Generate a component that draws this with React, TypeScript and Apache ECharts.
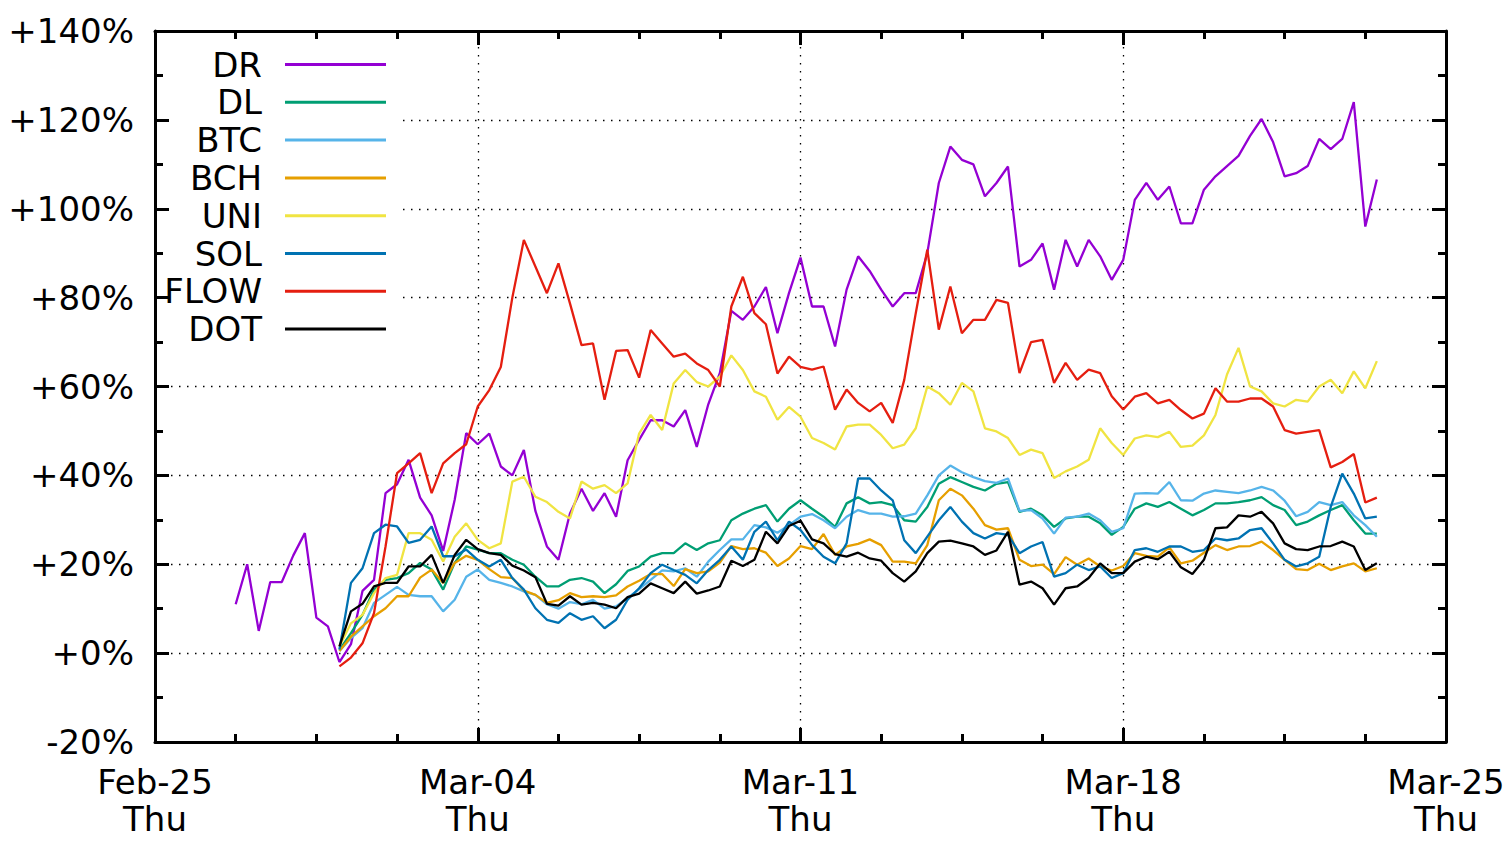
import React, { useEffect, useRef } from "react";
import * as echarts from "echarts";

// ---- data (percent change, sampled every 6 hours; x = days since Feb-25 2021) ----
const SERIES_NAMES = ["DR", "DL", "BTC", "BCH", "UNI", "SOL", "FLOW", "DOT"];
const SERIES_COLORS = ["#9400d3", "#009e73", "#56b4e9", "#e69f00", "#f0e442", "#0072b2", "#e51e10", "#000000"];
const STEP_DAYS = 0.25;
const DR_START = 1.75;
const OTHERS_START = 4.0;
const BASE_DATE_UTC = Date.UTC(2021, 1, 25);
const X_MIN_DAYS = 0;
const X_MAX_DAYS = 28;
const X_TICK_DAYS = 7;
const Y_MIN = -20;
const Y_MAX = 140;
const Y_TICK = 20;

const DR = [
  11,
  20, 5, 16, 16,
  22, 27, 8, 6,
  -2, 2, 14, 16.5,
  36, 38, 43.5, 35,
  31, 23, 34.5, 49.5,
  47, 49.4, 42, 40,
  45.7, 32, 24, 21,
  31.4, 37, 32, 36,
  30.7, 43.4, 48, 52.4,
  52.4, 51, 54.7, 46.4,
  56, 63, 77, 75,
  78, 82.4, 72, 81,
  89, 78, 78, 69,
  81.8, 89.3, 86, 81.8,
  78, 81, 81, 90,
  105.8, 114, 111, 110,
  102.8, 105.8, 109.5, 87,
  88.5, 92.2, 81.8, 93,
  87, 93, 89.3, 84,
  88.5, 102, 105.8, 102,
  105, 96.7, 96.7, 104.3,
  107.3, 109.6, 111.9, 116.4,
  120.2, 115, 107.3, 108,
  109.6, 115.7, 113.4, 115.7,
  124, 96, 106.6,
];

const DL = [
  0.7, 4.5, 8.6, 14.3,
  16.5, 16.9, 18, 20.3,
  18.8, 14.3, 20.3, 24,
  23.3, 22.5, 22.5, 21,
  19.9, 17.2, 15, 15,
  16.5, 16.9, 16.1, 13.5,
  15.5, 18.5, 19.5, 21.7,
  22.5, 22.5, 24.7, 23.2,
  24.7, 25.4, 29.9, 31.4,
  32.5, 33.3, 29.6, 32.5,
  34.4, 32.5, 30.7, 28.4,
  33.7, 35.1, 33.7, 34,
  33.3, 29.9, 29.6, 32.9,
  38.1, 39.6, 38.5, 37.4,
  36.6, 38.1, 38.5, 31.8,
  32.5, 31, 28.4, 30.3,
  30.7, 30.7, 29.2, 26.6,
  28.4, 32.5, 33.7, 32.9,
  34, 32.5, 31, 32.2,
  33.7, 33.7, 34, 34.4,
  35.1, 33.3, 32.2, 28.8,
  29.6, 31, 32.2, 33.3,
  29.9, 26.9, 26.9,
];

const BTC = [
  0.5, 3.4, 5.6, 11.3,
  13.1, 14.9, 13.1, 12.8,
  12.8, 9.4, 12, 17.2,
  18.8, 16.5, 15.8, 15,
  13.9, 13.1, 11, 10,
  11.5, 11, 12, 10,
  10.5, 12.4, 14.4, 16.5,
  18.6, 18.4, 19.1, 17.2,
  20.6, 23.2, 25.6, 25.6,
  28.8, 28.3, 27.1, 28.8,
  30.7, 31.3, 29.9, 28.1,
  30.7, 32.2, 31.4, 31.4,
  30.7, 30.8, 31.4, 35.5,
  40, 42.2, 40.7, 39.6,
  38.7, 38.3, 39.3, 32,
  32.2, 30.3, 26.9, 30.5,
  30.7, 31.4, 29.9, 27.3,
  28.1, 35.9, 36, 35.9,
  38.5, 34.4, 34.3, 35.9,
  36.6, 36.3, 36, 36.6,
  37.4, 36.6, 34.3, 30.8,
  31.8, 34, 33.3, 34,
  31, 28.8, 26.2,
];

const BCH = [
  0.5, 3.7, 6, 8.3,
  10.1, 12.8, 12.8, 17,
  18.8, 15.8, 20.3, 21.9,
  21, 18.9, 17.1, 16.9,
  14.1, 13.1, 11.3, 11.9,
  13.5, 12.6, 12.8, 12.6,
  13, 15, 16.3, 17.8,
  17.8, 15.1, 18.9, 18,
  18.4, 20.4, 24.1, 23.4,
  23.6, 22.6, 19.6, 21.3,
  24.1, 23.4, 26.8, 22.1,
  24, 24.6, 25.6, 24.3,
  20.6, 20.6, 20.2, 24.3,
  34.4, 37, 35.5, 32.5,
  28.8, 27.8, 28.1, 21,
  19.6, 19.9, 17.8, 21.6,
  19.9, 21.3, 19.5, 18.6,
  19.6, 22.5, 21.9, 21.7,
  23.8, 20.2, 20.8, 22.6,
  24.3, 23.2, 24, 24.1,
  25.1, 23.2, 21, 18.9,
  18.7, 20.1, 18.7, 19.5,
  20.2, 18.4, 19.1,
];

const UNI = [
  1.5, 6.7, 8.6, 13.5,
  16.9, 17.6, 27, 27,
  25.5, 20.6, 26.2, 29.2,
  25.5, 23.6, 24.7, 38.6,
  39.7, 35.2, 34, 31.8,
  30.3, 38.6, 37, 37.8,
  36, 38.2, 49.4, 53.6,
  50.2, 60.7, 63.7, 61,
  60, 62.2, 67, 63.7,
  58.9, 57.7, 52.5, 55.4,
  53.2, 48.4, 47.3, 45.8,
  51, 51.4, 51.4, 49.1,
  46.1, 46.9, 50.6, 60,
  58.5, 55.9, 60.8, 58.9,
  50.6, 49.9, 48.4, 44.6,
  45.8, 45, 39.4, 40.9,
  42, 43.5, 50.6, 47.3,
  44.6, 48.3, 49, 48.6,
  49.8, 46.4, 46.7, 49,
  53.6, 62.7, 68.7, 60,
  58.9, 56.2, 55.5, 57,
  56.6, 60, 61.5, 58.5,
  63.4, 59.6, 65.7,
];

const SOL = [
  0.8, 15.8, 19.1, 27,
  28.9, 28.5, 24.8, 25.5,
  28.5, 21.8, 21.8, 23.3,
  21, 19.5, 21, 16.9,
  14.3, 10.1, 7.5, 6.8,
  9, 7.5, 8.3, 5.6,
  7.5, 12, 14.6, 18,
  19.9, 18.7, 17.6, 15.7,
  18.7, 21, 24, 21,
  27.3, 29.6, 25.4, 29.6,
  27.7, 24.3, 21.7, 20.2,
  24.7, 39.3, 39.3, 36.6,
  34.4, 25.4, 22.5, 26.2,
  29.9, 32.9, 29.6, 27,
  25.8, 27, 26.6, 22.5,
  24, 25, 17.2, 18,
  19.9, 18.7, 19.5, 16.9,
  18, 23.2, 23.6, 22.8,
  24, 24, 22.8, 23.2,
  25.8, 25.4, 25.8, 27.7,
  28.1, 24.7, 21, 19.5,
  20.2, 21.7, 32.9, 40.4,
  35.9, 30.3, 30.7,
];

const FLOW = [
  -3, -1, 2.2, 9,
  24, 40.5, 42.7, 45,
  36, 42.7, 45, 47,
  55.5, 59.2, 64.4, 80,
  93, 87, 81, 87.7,
  78.7, 69.3, 69.7, 57,
  68, 68.2, 62, 72.7,
  69.7, 66.7, 67.4, 65.2,
  63.7, 60, 78, 84.7,
  76.5, 74, 62.9, 66.7,
  64.4, 63.8, 64.5, 54.8,
  59.3, 56.3, 54.4, 56.3,
  51.8, 61.5, 76.5, 90.8,
  72.8, 82.5, 72, 75,
  75, 79.5, 78.8, 63,
  70, 70.5, 60.8, 65.3,
  61.5, 63.8, 63, 57.8,
  54.8, 57.7, 58.5, 56.2,
  57, 54.7, 52.8, 53.9,
  59.6, 56.6, 56.6, 57.3,
  57.3, 55.5, 50.2, 49.4,
  49.8, 50.2, 41.8, 43,
  44.8, 33.9, 35,
];

const DOT = [
  1.5, 9.4, 11.1, 15,
  15.8, 15.8, 19.5, 19.5,
  22.1, 15.8, 22.1, 25.5,
  23.4, 22.5, 22.1, 19.7,
  18.6, 17.1, 11.1, 10.7,
  12.8, 10.9, 11.3, 10.9,
  10.1, 12.6, 13.4, 15.7,
  14.6, 13.5, 16.1, 13.4,
  14.1, 15, 20.8, 19.6,
  21, 27.3, 24.7, 28.6,
  29.8, 25.6, 24.7, 22.3,
  21.7, 22.6, 21.3, 20.8,
  18, 16.1, 18.4, 22.5,
  25.1, 25.3, 24.7, 24,
  22.1, 23.1, 27.3, 15.4,
  16.1, 14.6, 10.9, 14.6,
  15, 16.9, 20.2, 18,
  18, 20.6, 21.7, 21.1,
  22.8, 19.3, 17.8, 21,
  28.1, 28.3, 31, 30.7,
  31.8, 29.2, 24.7, 23.4,
  23.2, 24, 24.1, 25.1,
  24, 18.7, 20.2,
];

const SERIES_VALUES = [DR, DL, BTC, BCH, UNI, SOL, FLOW, DOT];
const SERIES_STARTS = [DR_START, OTHERS_START, OTHERS_START, OTHERS_START, OTHERS_START, OTHERS_START, OTHERS_START, OTHERS_START];

const MONTHS = ["Jan", "Feb", "Mar", "Apr", "May", "Jun", "Jul", "Aug", "Sep", "Oct", "Nov", "Dec"];
const WEEKDAYS = ["Sun", "Mon", "Tue", "Wed", "Thu", "Fri", "Sat"];

const FONT = "DejaVu Sans";
const FONT_SIZE = 34;

function xLabel(v: number): string {
  const d = new Date(BASE_DATE_UTC + v * 86400000);
  const dd = String(d.getUTCDate()).padStart(2, "0");
  return `${MONTHS[d.getUTCMonth()]}-${dd}\n${WEEKDAYS[d.getUTCDay()]}`;
}

function yLabel(v: number): string {
  return (v >= 0 ? "+" : "") + v + "%";
}

export default function App() {
  const ref = useRef<HTMLDivElement | null>(null);

  useEffect(() => {
    if (!ref.current) return;
    const chart = echarts.init(ref.current, undefined, { renderer: "svg" });

    const axisLine = { show: true, onZero: false, lineStyle: { color: "#000", width: 3 } };
    const tick = { show: true, inside: true, length: 14, lineStyle: { color: "#000", width: 3 } };
    const gridDots = { show: true, lineStyle: { color: "#000", width: 1.3, type: [1.5, 6.5] } };

    const series = SERIES_NAMES.map((name, k) => ({
      type: "line",
      name,
      data: SERIES_VALUES[k].map((v, i) => [SERIES_STARTS[k] + i * STEP_DAYS, v]),
      showSymbol: false,
      symbol: "none",
      silent: true,
      z: 2,
      lineStyle: { width: 2.3, color: SERIES_COLORS[k] },
      itemStyle: { color: SERIES_COLORS[k] },
      emphasis: { disabled: true },
    }));

    const legendTop = 64.5;
    const legendGap = 37.8;
    const legendGraphics: any[] = [
      {
        type: "rect",
        silent: true,
        z: 1,
        shape: { x: 170, y: 40, width: 232, height: 312 },
        style: { fill: "#ffffff" },
      },
    ];
    SERIES_NAMES.forEach((name, i) => {
      const y = legendTop + i * legendGap;
      legendGraphics.push({
        type: "text",
        silent: true,
        z: 5,
        x: 262,
        y,
        style: {
          text: name,
          fill: "#000",
          font: `${FONT_SIZE}px "${FONT}"`,
          fontSize: FONT_SIZE,
          fontFamily: FONT,
          align: "right",
          verticalAlign: "middle",
          textAlign: "right",
          textVerticalAlign: "middle",
        },
      });
      legendGraphics.push({
        type: "line",
        silent: true,
        z: 5,
        shape: { x1: 285, y1: y, x2: 386, y2: y },
        style: { stroke: SERIES_COLORS[i], lineWidth: 3 },
      });
    });

    const option: any = {
      animation: false,
      backgroundColor: "#ffffff",
      textStyle: { fontFamily: FONT },
      grid: { left: 155, top: 31, width: 1291, height: 711, outerBoundsMode: "none" },
      xAxis: [
        {
          type: "value",
          position: "bottom",
          min: X_MIN_DAYS,
          max: X_MAX_DAYS,
          interval: X_TICK_DAYS,
          axisLine,
          axisTick: tick,
          minorTick: { show: true, splitNumber: 4, length: 8, lineStyle: { color: "#000", width: 3 } },
          splitLine: gridDots,
          minorSplitLine: { show: false },
          axisLabel: {
            formatter: xLabel,
            fontSize: FONT_SIZE,
            fontFamily: FONT,
            color: "#000",
            margin: 21,
            lineHeight: 37,
            showMinLabel: true,
            showMaxLabel: true,
          },
        },
        {
          type: "value",
          position: "top",
          min: X_MIN_DAYS,
          max: X_MAX_DAYS,
          interval: X_TICK_DAYS,
          axisLine,
          axisTick: tick,
          minorTick: { show: true, splitNumber: 4, length: 8, lineStyle: { color: "#000", width: 3 } },
          splitLine: { show: false },
          axisLabel: { show: false },
        },
      ],
      yAxis: [
        {
          type: "value",
          position: "left",
          min: Y_MIN,
          max: Y_MAX,
          interval: Y_TICK,
          axisLine,
          axisTick: tick,
          minorTick: { show: true, splitNumber: 2, length: 8, lineStyle: { color: "#000", width: 3 } },
          splitLine: gridDots,
          axisLabel: {
            formatter: yLabel,
            fontSize: FONT_SIZE,
            fontFamily: FONT,
            color: "#000",
            margin: 21,
            showMinLabel: true,
            showMaxLabel: true,
          },
        },
        {
          type: "value",
          position: "right",
          min: Y_MIN,
          max: Y_MAX,
          interval: Y_TICK,
          axisLine,
          axisTick: tick,
          minorTick: { show: true, splitNumber: 2, length: 8, lineStyle: { color: "#000", width: 3 } },
          splitLine: { show: false },
          axisLabel: { show: false },
        },
      ],
      series,
      graphic: legendGraphics,
    };

    chart.setOption(option);
    return () => {
      chart.dispose();
    };
  }, []);

  return (
    <div
      ref={ref}
      style={{ position: "absolute", left: 0, top: 0, width: 1511, height: 848, background: "#fff" }}
    />
  );
}
